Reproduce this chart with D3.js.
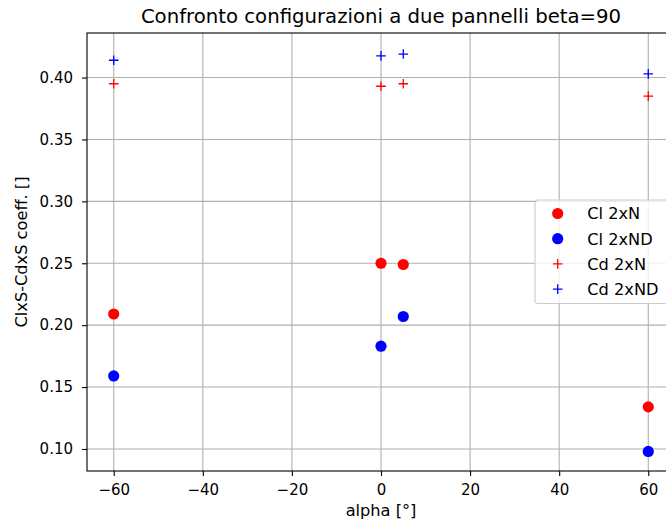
<!DOCTYPE html>
<html>
<head>
<meta charset="utf-8">
<script src="https://cdn.jsdelivr.net/npm/d3@7"></script>
<style>
  body { margin: 0; background: #fff; overflow: hidden; }
  text { font-family: "DejaVu Sans", sans-serif; fill: #000; }
</style>
</head>
<body>
<div id="chart"></div>
<script>
const alphas = [-60, 0, 5, 60];
const clN  = [0.209, 0.250, 0.249, 0.134];
const clND = [0.159, 0.183, 0.207, 0.098];
const cdN  = [0.395, 0.393, 0.395, 0.385];
const cdND = [0.414, 0.4175, 0.419, 0.403];

const xTicks = [-60, -40, -20, 0, 20, 40, 60];
const yTicks = [0.10, 0.15, 0.20, 0.25, 0.30, 0.35, 0.40];

const seriesList = [
    { name: "Cl 2xN",  values: clN,  color: "#ff0000", marker: "circle" },
    { name: "Cl 2xND", values: clND, color: "#0000ff", marker: "circle" },
    { name: "Cd 2xN",  values: cdN,  color: "#ff0000", marker: "plus" },
    { name: "Cd 2xND", values: cdND, color: "#0000ff", marker: "plus" }
];

const W = 666, H = 527;
const margin = {top: 33, right: -9, bottom: 56, left: 87};
const width = W - margin.left - margin.right;
const height = H - margin.top - margin.bottom;

const svg = d3.select("#chart")
    .append("svg")
    .attr("width", W)
    .attr("height", H);

const g = svg.append("g")
    .attr("transform", `translate(${margin.left},${margin.top})`);

const xScale = d3.scaleLinear().domain([-66, 66]).range([0, width]);
const yScale = d3.scaleLinear().domain([0.0822, 0.436]).range([height, 0]);

// grid
g.selectAll(".xgrid")
    .data(xTicks)
    .enter()
    .append("line")
    .attr("x1", d => xScale(d))
    .attr("x2", d => xScale(d))
    .attr("y1", 0)
    .attr("y2", height)
    .style("stroke", "#b0b0b0")
    .style("stroke-width", 1.1);

g.selectAll(".ygrid")
    .data(yTicks)
    .enter()
    .append("line")
    .attr("x1", 0)
    .attr("x2", width)
    .attr("y1", d => yScale(d))
    .attr("y2", d => yScale(d))
    .style("stroke", "#b0b0b0")
    .style("stroke-width", 1.1);

// axes
const xAxis = d3.axisBottom(xScale)
    .tickValues(xTicks)
    .tickSize(5)
    .tickPadding(8)
    .tickFormat(d => d < 0 ? "\u2212" + Math.abs(d) : d);

const yAxis = d3.axisLeft(yScale)
    .tickValues(yTicks)
    .tickSize(5)
    .tickPadding(9)
    .tickFormat(d3.format(".2f"));

g.append("g")
    .attr("transform", `translate(0,${height})`)
    .call(xAxis)
    .call(a => a.select(".domain").remove())
    .selectAll("text")
    .style("font-size", "15px");

g.append("g")
    .call(yAxis)
    .call(a => a.select(".domain").remove())
    .selectAll("text")
    .style("font-size", "15px");

g.selectAll(".tick line").style("stroke", "#000").style("stroke-width", 1.1);

// frame
g.append("rect")
    .attr("x", 0)
    .attr("y", 0)
    .attr("width", width)
    .attr("height", height)
    .style("fill", "none")
    .style("stroke", "#000")
    .style("stroke-width", 1.1);

function drawMarker(sel, s, x, y) {
    if (s.marker === "circle") {
        sel.append("circle")
            .attr("cx", x)
            .attr("cy", y)
            .attr("r", 5.6)
            .style("fill", s.color);
    } else {
        sel.append("path")
            .attr("d", `M${x - 4.8},${y}H${x + 4.8}M${x},${y - 4.8}V${y + 4.8}`)
            .style("stroke", s.color)
            .style("stroke-width", 1.3)
            .style("fill", "none");
    }
}

// data points
seriesList.forEach(s => {
    const sg = g.append("g");
    s.values.forEach((v, i) => {
        drawMarker(sg, s, xScale(alphas[i]), yScale(v));
    });
});

// legend
const legend = g.append("g")
    .attr("transform", `translate(${535 - margin.left},${200 - margin.top})`);

legend.append("rect")
    .attr("x", 0)
    .attr("y", 0)
    .attr("width", 140)
    .attr("height", 103.5)
    .attr("rx", 3)
    .style("fill", "#fff")
    .style("fill-opacity", 0.8)
    .style("stroke", "#cccccc")
    .style("stroke-width", 1.1);

seriesList.forEach((s, i) => {
    const ly = 13.5 + i * 25.2;
    drawMarker(legend, s, 22.7, ly);
    legend.append("text")
        .attr("x", 52.3)
        .attr("y", ly + 5.9)
        .style("font-size", "16.2px")
        .text(s.name);
});

// title and labels
svg.append("text")
    .attr("x", margin.left + width / 2)
    .attr("y", 22.5)
    .style("text-anchor", "middle")
    .style("font-size", "19.7px")
    .text("Confronto configurazioni a due pannelli beta=90");

svg.append("text")
    .attr("x", margin.left + width / 2)
    .attr("y", 516)
    .style("text-anchor", "middle")
    .style("font-size", "16.2px")
    .text("alpha [°]");

svg.append("text")
    .attr("transform", `translate(26.5,${margin.top + height / 2}) rotate(-90)`)
    .style("text-anchor", "middle")
    .style("font-size", "16.2px")
    .text("ClxS-CdxS coeff. []");
</script>
</body>
</html>
